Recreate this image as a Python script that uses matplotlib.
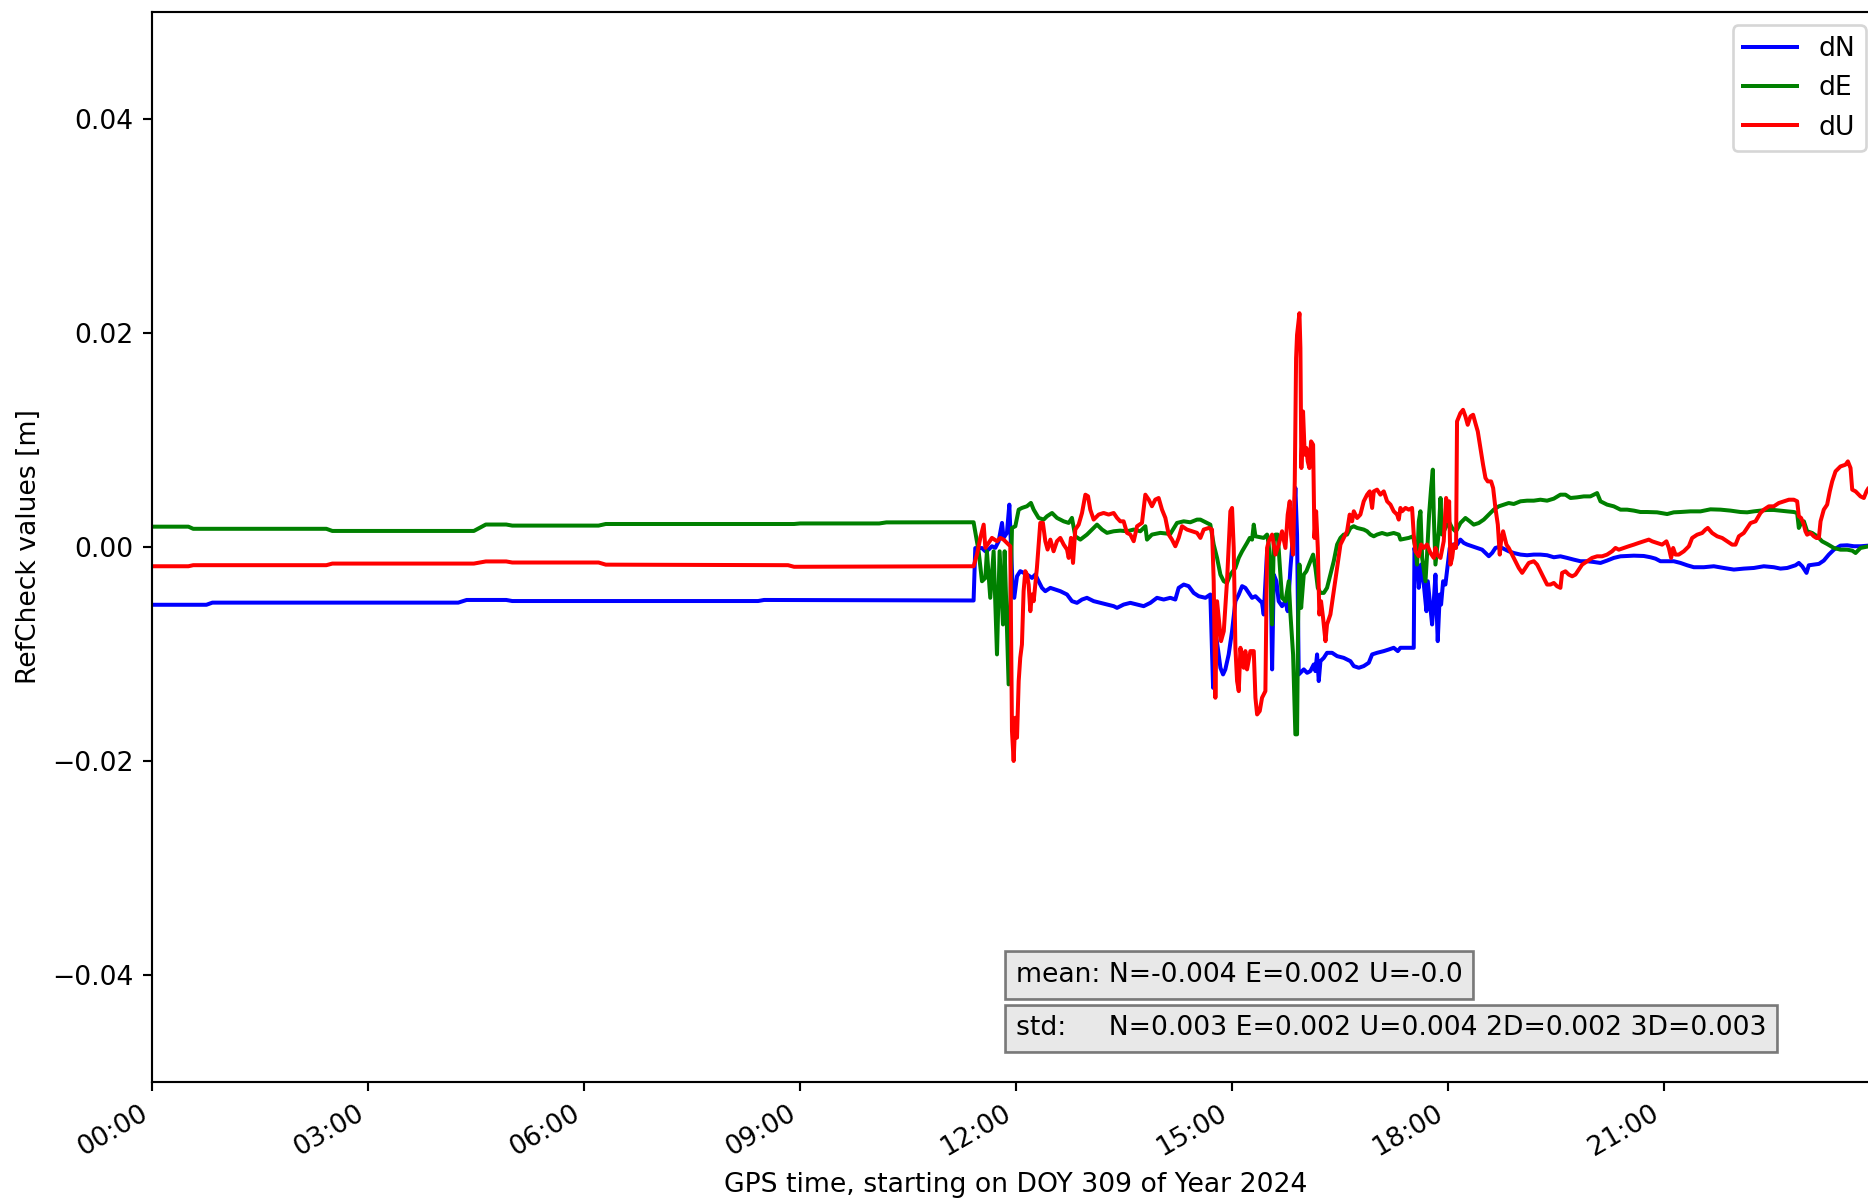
import datetime as dt
import numpy as np
import matplotlib
matplotlib.use('Agg')
import matplotlib.pyplot as plt
import matplotlib.dates as mdates

# RefCheck coordinate differences, (minutes after 00:00 GPS, value in mm)
dN = [(0, -5.4), (45, -5.4), (50, -5.2), (255, -5.2), (262, -4.95), (295, -4.95), (300, -5.05),
      (505, -5.05), (510, -4.95), (684.7, -5.0), (686.1, -0.1), (691.7, -0.1), (694.5, -0.4),
      (697.2, -0.24), (700.0, 0.07), (702.8, -0.08), (705.6, 0.54), (708.4, 2.25), (709.7, 0.85),
      (712.5, 1.32), (714.5, 3.96), (715.9, -0.08), (717.5, -4.44), (718.6, -4.75), (720.9, -2.73),
      (723.6, -2.26), (726.4, -2.42), (729.2, -2.57), (733.4, -2.89), (736.2, -2.57), (738.9, -3.20),
      (741.7, -3.82), (744.5, -4.13), (748.7, -3.82), (752.8, -3.97), (757.0, -4.13), (762.6, -4.44),
      (766.7, -5.06), (770.9, -5.22), (775.1, -4.91), (779.2, -4.75), (784.8, -5.06), (790.4, -5.22),
      (795.9, -5.38), (801.5, -5.53), (804.3, -5.69), (809.8, -5.38), (815.4, -5.22), (821.0, -5.38),
      (826.5, -5.53), (832.1, -5.22), (837.6, -4.75), (843.2, -4.91), (848.7, -4.75), (852.9, -4.91),
      (855.7, -3.82), (859.9, -3.51), (864.0, -3.66), (868.2, -4.29), (872.4, -4.60), (878.0, -4.75),
      (882.1, -4.44), (884.4, -13.16), (886.3, -7.87), (888.3, -9.42), (890.5, -11.29), (892.7, -11.91),
      (894.6, -11.44), (897.4, -10.04), (900.2, -7.87), (903.0, -5.07), (905.8, -4.44), (908.6, -3.66),
      (911.3, -3.82), (914.1, -4.29), (916.9, -4.75), (919.7, -4.60), (922.5, -4.91), (925.2, -5.22),
      (926.6, -6.31), (929.4, -0.40), (932.2, -1.02), (933.6, -11.44), (935.0, -2.58), (937.2, -3.20),
      (939.1, -5.07), (941.9, -5.53), (944.7, -5.07), (946.6, -6.00), (948.9, -1.95), (951.1, 1.16),
      (953.0, 5.52), (954.4, 1.16), (955.8, -11.91), (960.0, -11.44), (962.8, -11.76), (965.5, -11.60),
      (968.3, -10.98), (969.7, -11.60), (971.1, -10.04), (972.5, -12.53), (973.9, -10.67), (976.7, -10.36),
      (979.4, -9.89), (983.6, -9.89), (987.8, -10.20), (993.3, -10.36), (998.9, -10.67), (1001.7, -11.13),
      (1005.9, -11.29), (1010.0, -11.13), (1014.2, -10.82), (1017.0, -10.04), (1021.1, -9.89),
      (1026.7, -9.73), (1030.9, -9.58), (1035.0, -9.42), (1038.4, -9.73), (1040.6, -9.42), (1051.7, -9.42),
      (1052.3, -0.09), (1054.5, -1.64), (1055.9, -3.82), (1057.8, -1.64), (1060.1, -3.51), (1062.3, -6.00),
      (1063.4, -3.20), (1065.1, -5.07), (1067.0, -7.24), (1068.4, -5.07), (1069.8, -2.58), (1071.7, -8.80),
      (1073.4, -4.44), (1074.5, -5.38), (1076.2, -3.20), (1078.1, -3.51), (1080.1, -1.64), (1081.7, -0.09),
      (1084.5, 0.23), (1087.9, 0.23), (1090.6, 0.69), (1093.4, 0.38), (1096.2, 0.23), (1100.4, 0.07),
      (1104.5, -0.09), (1108.7, -0.25), (1111.5, -0.55), (1114.3, -0.86), (1117.1, -0.55), (1119.8, -0.09),
      (1122.6, 0.0), (1125.4, -0.09), (1130.9, -0.40), (1135.1, -0.56), (1140.7, -0.71), (1146.2, -0.77),
      (1151.8, -0.71), (1157.3, -0.71), (1162.9, -0.77), (1168.5, -0.96), (1174.0, -0.87), (1179.6, -1.02),
      (1185.1, -1.18), (1190.7, -1.33), (1196.3, -1.33), (1201.8, -1.40), (1207.4, -1.49), (1212.9, -1.27),
      (1218.5, -1.02), (1224.1, -0.87), (1235.2, -0.81), (1243.5, -0.84), (1249.1, -0.96), (1253.3, -1.09),
      (1257.4, -1.33), (1268.5, -1.33), (1274.1, -1.49), (1279.7, -1.71), (1285.2, -1.89), (1293.6, -1.89),
      (1301.9, -1.80), (1310.2, -1.96), (1318.6, -2.11), (1326.9, -2.02), (1335.3, -1.96), (1343.6, -1.80),
      (1351.9, -1.89), (1357.5, -2.02), (1363.1, -1.96), (1370.0, -1.71), (1372.8, -1.49), (1375.6, -1.80),
      (1379.2, -2.42), (1381.1, -1.71), (1389.5, -1.58), (1393.6, -1.27), (1397.8, -0.71), (1402.0, -0.25),
      (1407.5, 0.13), (1413.1, 0.16), (1418.7, 0.07), (1424.2, 0.07), (1430.9, 0.13), (1439.5, 0.15)]

dE = [(0, 1.9), (30, 1.9), (34, 1.7), (145, 1.7), (150, 1.5), (268, 1.5), (278, 2.1), (295, 2.1),
      (300, 2.0), (372, 2.0), (378, 2.15), (535, 2.15), (540, 2.2), (606, 2.2), (612, 2.3), (684.7, 2.31),
      (688.9, -0.40), (691.7, -3.20), (694.5, -2.89), (695.8, -0.40), (698.6, -4.75), (701.4, -0.40),
      (704.2, -10.04), (706.4, -0.40), (709.2, -7.24), (710.6, -0.40), (713.9, -12.84), (716.7, 1.78),
      (719.5, 1.94), (722.3, 3.49), (725.0, 3.65), (729.2, 3.81), (732.5, 4.12), (734.8, 3.49),
      (738.9, 2.72), (743.1, 2.56), (745.9, 2.87), (750.1, 3.18), (754.2, 2.72), (759.8, 2.40),
      (764.0, 2.25), (766.7, 2.72), (769.5, 1.00), (773.7, 0.69), (779.2, 1.16), (783.4, 1.63),
      (787.6, 2.09), (791.8, 1.63), (795.9, 1.32), (801.5, 1.47), (807.0, 1.53), (812.6, 1.47),
      (818.2, 1.63), (823.7, 1.47), (827.9, 1.94), (829.3, 0.69), (833.4, 1.16), (840.4, 1.32),
      (848.7, 1.22), (854.3, 2.25), (859.9, 2.40), (865.4, 2.31), (871.0, 2.56), (873.8, 2.56),
      (882.1, 2.09), (884.9, 0.23), (887.7, -1.02), (890.5, -2.58), (893.3, -3.20), (896.0, -3.35),
      (898.8, -2.58), (903.0, -1.95), (905.8, -1.02), (908.6, -0.40), (912.7, 0.38), (915.0, 0.85),
      (916.9, 0.69), (918.3, 2.09), (919.7, 1.00), (926.6, 0.85), (929.4, 1.16), (930.8, 0.23),
      (932.2, -2.26), (933.6, -7.24), (935.0, 0.54), (936.4, 1.16), (938.3, 1.16), (940.5, -2.58),
      (941.9, -4.75), (944.7, -5.07), (947.5, -3.20), (948.9, -6.31), (951.1, -10.04), (953.0, -17.51),
      (954.4, -17.51), (955.3, -6.93), (956.4, -1.64), (957.8, -5.69), (960.0, -2.58), (962.2, -2.26),
      (965.5, -1.33), (967.8, -0.71), (969.7, -1.95), (971.7, -3.82), (973.9, -4.29), (976.7, -4.29),
      (979.4, -3.82), (982.2, -2.58), (985.0, -1.33), (987.8, 0.23), (990.6, 0.85), (993.3, 1.16),
      (996.1, 1.16), (998.9, 1.78), (1001.7, 1.94), (1004.5, 1.78), (1010.0, 1.63), (1012.8, 1.47),
      (1015.6, 1.16), (1018.4, 1.00), (1021.1, 1.16), (1025.3, 1.31), (1029.5, 1.16), (1035.0, 1.31),
      (1039.2, 1.16), (1040.6, 0.69), (1047.6, 0.85), (1051.2, 1.00), (1053.1, -0.09), (1054.5, -1.64),
      (1055.9, 2.40), (1057.3, 3.34), (1058.7, -1.02), (1061.5, -3.20), (1062.8, -0.71), (1064.5, 3.03),
      (1066.2, 5.52), (1067.6, 7.23), (1068.4, 3.03), (1069.8, -1.64), (1071.2, -0.09), (1072.6, 1.47),
      (1074.0, 4.58), (1075.4, 1.16), (1078.1, 1.78), (1080.9, 2.40), (1083.7, 1.78), (1086.5, 1.47),
      (1087.8, 1.62), (1090.6, 2.24), (1094.8, 2.71), (1098.4, 2.40), (1101.7, 2.09), (1105.9, 2.24),
      (1110.1, 2.56), (1112.9, 2.87), (1115.6, 3.18), (1118.4, 3.49), (1122.6, 3.80), (1126.8, 3.96),
      (1130.9, 4.11), (1135.1, 4.02), (1140.7, 4.27), (1146.2, 4.33), (1151.8, 4.33), (1157.3, 4.42),
      (1162.9, 4.33), (1168.5, 4.52), (1174.0, 4.89), (1178.2, 4.89), (1182.4, 4.58), (1187.9, 4.64),
      (1193.5, 4.73), (1199.0, 4.73), (1204.6, 5.04), (1207.4, 4.27), (1212.9, 3.96), (1218.5, 3.80),
      (1224.1, 3.49), (1229.6, 3.49), (1235.2, 3.40), (1240.7, 3.27), (1246.3, 3.27), (1254.6, 3.24),
      (1263.0, 3.08), (1268.5, 3.24), (1274.1, 3.27), (1282.4, 3.33), (1290.8, 3.33), (1299.1, 3.52),
      (1307.5, 3.49), (1315.8, 3.40), (1324.1, 3.27), (1329.7, 3.24), (1335.3, 3.33), (1340.8, 3.40),
      (1346.4, 3.46), (1351.9, 3.46), (1357.5, 3.40), (1363.1, 3.33), (1368.6, 3.27), (1371.4, 3.18),
      (1372.8, 1.78), (1374.7, 2.24), (1377.0, 2.40), (1379.7, 1.47), (1383.9, 1.31), (1388.1, 1.00),
      (1392.2, 0.53), (1396.4, 0.28), (1402.0, -0.09), (1407.5, -0.25), (1413.1, -0.25), (1417.3, -0.34),
      (1420.1, -0.56), (1424.2, -0.09), (1430.9, 0.07), (1439.5, 0.1)]

dU = [(0, -1.8), (30, -1.8), (34, -1.7), (145, -1.7), (150, -1.55), (268, -1.55), (278, -1.35),
      (295, -1.35), (300, -1.45), (372, -1.45), (378, -1.65), (530, -1.7), (535, -1.85), (684.7, -1.80),
      (687.5, -0.71), (690.3, 0.85), (693.1, 2.09), (694.5, -0.08), (697.2, 0.38), (700.0, 0.85),
      (704.2, 0.54), (707.0, 0.85), (709.7, 0.69), (712.5, 0.38), (715.3, 0.07), (716.7, -17.20),
      (718.1, -20.00), (719.5, -15.96), (720.9, -17.82), (722.3, -12.53), (723.6, -10.35), (725.0, -9.11),
      (726.4, -4.13), (727.8, -2.26), (729.2, -2.57), (730.6, -3.51), (732.0, -6.00), (733.4, -4.44),
      (734.8, -5.06), (737.5, -1.95), (740.3, 2.25), (742.5, 2.25), (744.5, 0.54), (746.4, -0.24),
      (748.7, 0.69), (751.4, -0.40), (754.2, 0.54), (757.0, 0.85), (759.8, 0.23), (762.6, -0.24),
      (764.0, -1.02), (765.9, 0.85), (767.6, -1.49), (769.5, 1.63), (772.3, 2.09), (775.1, 3.18),
      (777.9, 4.89), (780.1, 4.74), (782.0, 3.49), (784.8, 2.56), (789.0, 3.03), (793.1, 3.18),
      (797.3, 3.03), (801.5, 3.18), (804.3, 2.72), (807.0, 2.40), (809.8, 2.40), (812.6, 1.32),
      (815.4, 1.16), (818.2, 0.54), (821.0, 1.94), (825.1, 2.25), (827.9, 4.89), (830.7, 4.43),
      (833.4, 3.81), (836.2, 4.43), (839.0, 4.58), (841.8, 3.49), (844.6, 2.72), (847.4, 1.16),
      (850.1, 0.69), (852.9, 0.07), (855.7, 0.85), (858.5, 1.94), (862.6, 1.63), (866.8, 1.47),
      (871.0, 1.32), (873.8, 0.85), (876.6, 1.63), (880.8, 1.78), (883.5, 1.63), (884.9, -3.20),
      (886.3, -14.09), (887.7, -5.07), (889.1, -6.62), (891.0, -8.80), (893.3, -7.87), (896.0, -3.20),
      (898.8, 3.34), (900.2, 3.65), (901.6, -0.09), (903.0, -9.42), (904.4, -12.53), (905.8, -13.47),
      (907.2, -9.42), (908.6, -10.98), (910.0, -11.29), (911.3, -9.73), (912.7, -11.44), (915.5, -9.73),
      (918.3, -9.73), (919.7, -14.09), (921.1, -15.65), (923.3, -15.33), (925.2, -14.09), (928.0, -13.47),
      (929.4, -0.09), (930.8, 0.54), (933.6, 1.16), (936.4, -0.71), (939.1, 0.23), (941.9, 1.47),
      (944.7, -0.09), (946.6, 3.03), (948.3, 4.27), (949.4, 1.16), (951.1, -0.71), (952.5, 6.14),
      (953.6, 17.65), (954.4, 19.83), (956.4, 21.85), (957.2, 18.59), (958.0, 7.38), (959.4, 12.67),
      (960.8, 8.63), (962.2, 9.25), (963.3, 8.01), (964.7, 7.38), (966.1, 9.87), (967.8, 9.56),
      (968.9, 0.85), (970.3, 3.34), (971.7, -0.09), (973.0, -6.31), (974.4, -5.07), (976.1, -6.62),
      (978.1, -8.80), (979.4, -7.24), (982.2, -6.31), (985.0, -4.13), (987.8, -1.95), (990.6, 0.23),
      (993.3, 0.85), (996.1, 1.47), (998.3, 3.03), (1000.3, 2.40), (1001.7, 3.34), (1004.5, 2.71),
      (1007.2, 3.03), (1010.0, 4.27), (1012.8, 4.89), (1015.0, 5.20), (1017.0, 3.65), (1018.4, 5.20),
      (1021.1, 5.36), (1023.9, 4.89), (1026.7, 5.20), (1029.5, 4.27), (1032.3, 3.96), (1035.0, 3.34),
      (1037.8, 3.03), (1039.2, 2.56), (1040.6, 3.65), (1042.0, 3.34), (1044.8, 3.65), (1047.6, 3.49),
      (1050.3, 3.65), (1051.7, 1.16), (1053.1, -0.40), (1055.9, -0.86), (1057.8, 0.23), (1060.1, -0.09),
      (1062.8, 0.23), (1065.6, -0.55), (1068.4, -1.02), (1069.8, -0.09), (1071.2, -0.71), (1074.0, -1.02),
      (1076.7, 0.54), (1078.7, 4.58), (1080.4, 2.40), (1081.2, 4.27), (1082.3, -1.64), (1083.7, -1.02),
      (1085.1, 0.23), (1087.0, -0.09), (1087.8, 11.74), (1090.6, 12.51), (1092.8, 12.82), (1094.8, 12.20),
      (1096.7, 11.42), (1099.0, 12.20), (1101.2, 12.36), (1103.1, 11.58), (1105.1, 10.80), (1107.3, 9.25),
      (1109.5, 7.69), (1111.5, 6.45), (1113.4, 6.13), (1116.2, 6.13), (1117.9, 5.51), (1119.8, 3.64),
      (1121.8, 2.09), (1123.4, -0.71), (1124.5, 0.53), (1126.2, 1.47), (1127.6, 0.84), (1129.0, 0.22),
      (1130.9, -0.09), (1133.7, -0.71), (1136.5, -1.33), (1139.3, -1.96), (1142.1, -2.42), (1144.8, -1.96),
      (1147.6, -1.49), (1151.8, -1.33), (1154.6, -1.65), (1157.3, -2.27), (1160.1, -2.89), (1162.9, -3.51),
      (1165.7, -3.51), (1168.5, -3.36), (1171.2, -3.67), (1174.0, -3.82), (1175.4, -2.42), (1178.2, -2.27),
      (1181.0, -2.58), (1183.8, -2.74), (1186.5, -2.58), (1189.3, -2.11), (1192.1, -1.65), (1196.3, -1.33),
      (1200.4, -1.02), (1204.6, -0.87), (1208.8, -0.87), (1212.9, -0.71), (1217.1, -0.40), (1219.9, -0.09),
      (1222.7, -0.25), (1226.8, -0.09), (1231.0, 0.07), (1235.2, 0.22), (1239.3, 0.38), (1243.5, 0.53),
      (1247.7, 0.69), (1250.5, 0.53), (1254.6, 0.38), (1258.8, 0.22), (1262.4, 0.53), (1264.4, -0.09),
      (1266.3, -1.02), (1268.0, -0.09), (1269.9, -0.71), (1272.7, -0.71), (1276.9, -0.40), (1281.1, 0.07),
      (1283.8, 0.84), (1288.0, 1.15), (1292.2, 1.31), (1294.9, 1.62), (1296.9, 1.78), (1300.5, 1.31),
      (1304.7, 1.00), (1308.9, 0.84), (1313.0, 0.53), (1317.2, 0.22), (1320.0, 0.22), (1322.8, 1.00),
      (1326.9, 1.31), (1329.7, 1.78), (1332.5, 2.24), (1336.7, 2.40), (1340.8, 3.18), (1343.6, 3.49),
      (1347.8, 3.80), (1351.9, 3.80), (1356.1, 4.11), (1360.3, 4.27), (1364.5, 4.42), (1368.6, 4.42),
      (1371.4, 4.27), (1372.8, 2.87), (1374.7, 2.71), (1377.0, 2.09), (1378.3, 1.47), (1379.7, 1.15),
      (1382.5, 1.31), (1385.3, 1.00), (1387.5, 0.84), (1389.5, 0.84), (1390.9, 2.40), (1393.6, 3.49),
      (1396.4, 3.96), (1398.6, 5.20), (1400.6, 6.13), (1403.4, 7.07), (1407.5, 7.53), (1411.7, 7.69),
      (1413.7, 8.00), (1415.9, 7.38), (1417.3, 5.36), (1420.1, 5.20), (1424.2, 4.73), (1427.0, 4.58),
      (1429.2, 5.20), (1430.9, 5.51), (1439.5, 5.5)]

series = [('dN', dN, 'b'), ('dE', dE, 'g'), ('dU', dU, 'r')]

mean_txt = 'mean: N=-0.004 E=0.002 U=-0.0'
std_txt = 'std:     N=0.003 E=0.002 U=0.004 2D=0.002 3D=0.003'

t0 = dt.datetime(2024, 11, 4)  # DOY 309


def to_time(minutes):
    return [t0 + dt.timedelta(minutes=m) for m in minutes]


W, H, DPI = 1868, 1201, 192
fig = plt.figure(figsize=(W / DPI, H / DPI), dpi=DPI)
ax = fig.add_axes([0.0816, 0.0991, 0.9242, 0.8909])

for name, data, col in series:
    mins, mm = zip(*data)
    ax.plot(to_time(mins), np.array(mm) / 1000.0, color=col, label=name)

ax.set_xlim(t0, t0 + dt.timedelta(minutes=1439.5))
ax.set_ylim(-0.05, 0.05)
ax.xaxis.set_major_locator(mdates.HourLocator(byhour=range(0, 24, 3)))
ax.xaxis.set_major_formatter(mdates.DateFormatter('%H:%M'))
fig.autofmt_xdate(rotation=30, ha='right')

ax.set_xlabel('GPS time, starting on DOY 309 of Year 2024')
ax.set_ylabel('RefCheck values [m]')
ax.legend(loc='upper right')

box = dict(facecolor='lightgrey', alpha=0.5)
ax.text(0.5, 0.1, mean_txt, transform=ax.transAxes, va='center', bbox=box)
ax.text(0.5, 0.05, std_txt, transform=ax.transAxes, va='center', bbox=box)

fig.savefig('out.png', dpi=DPI)
